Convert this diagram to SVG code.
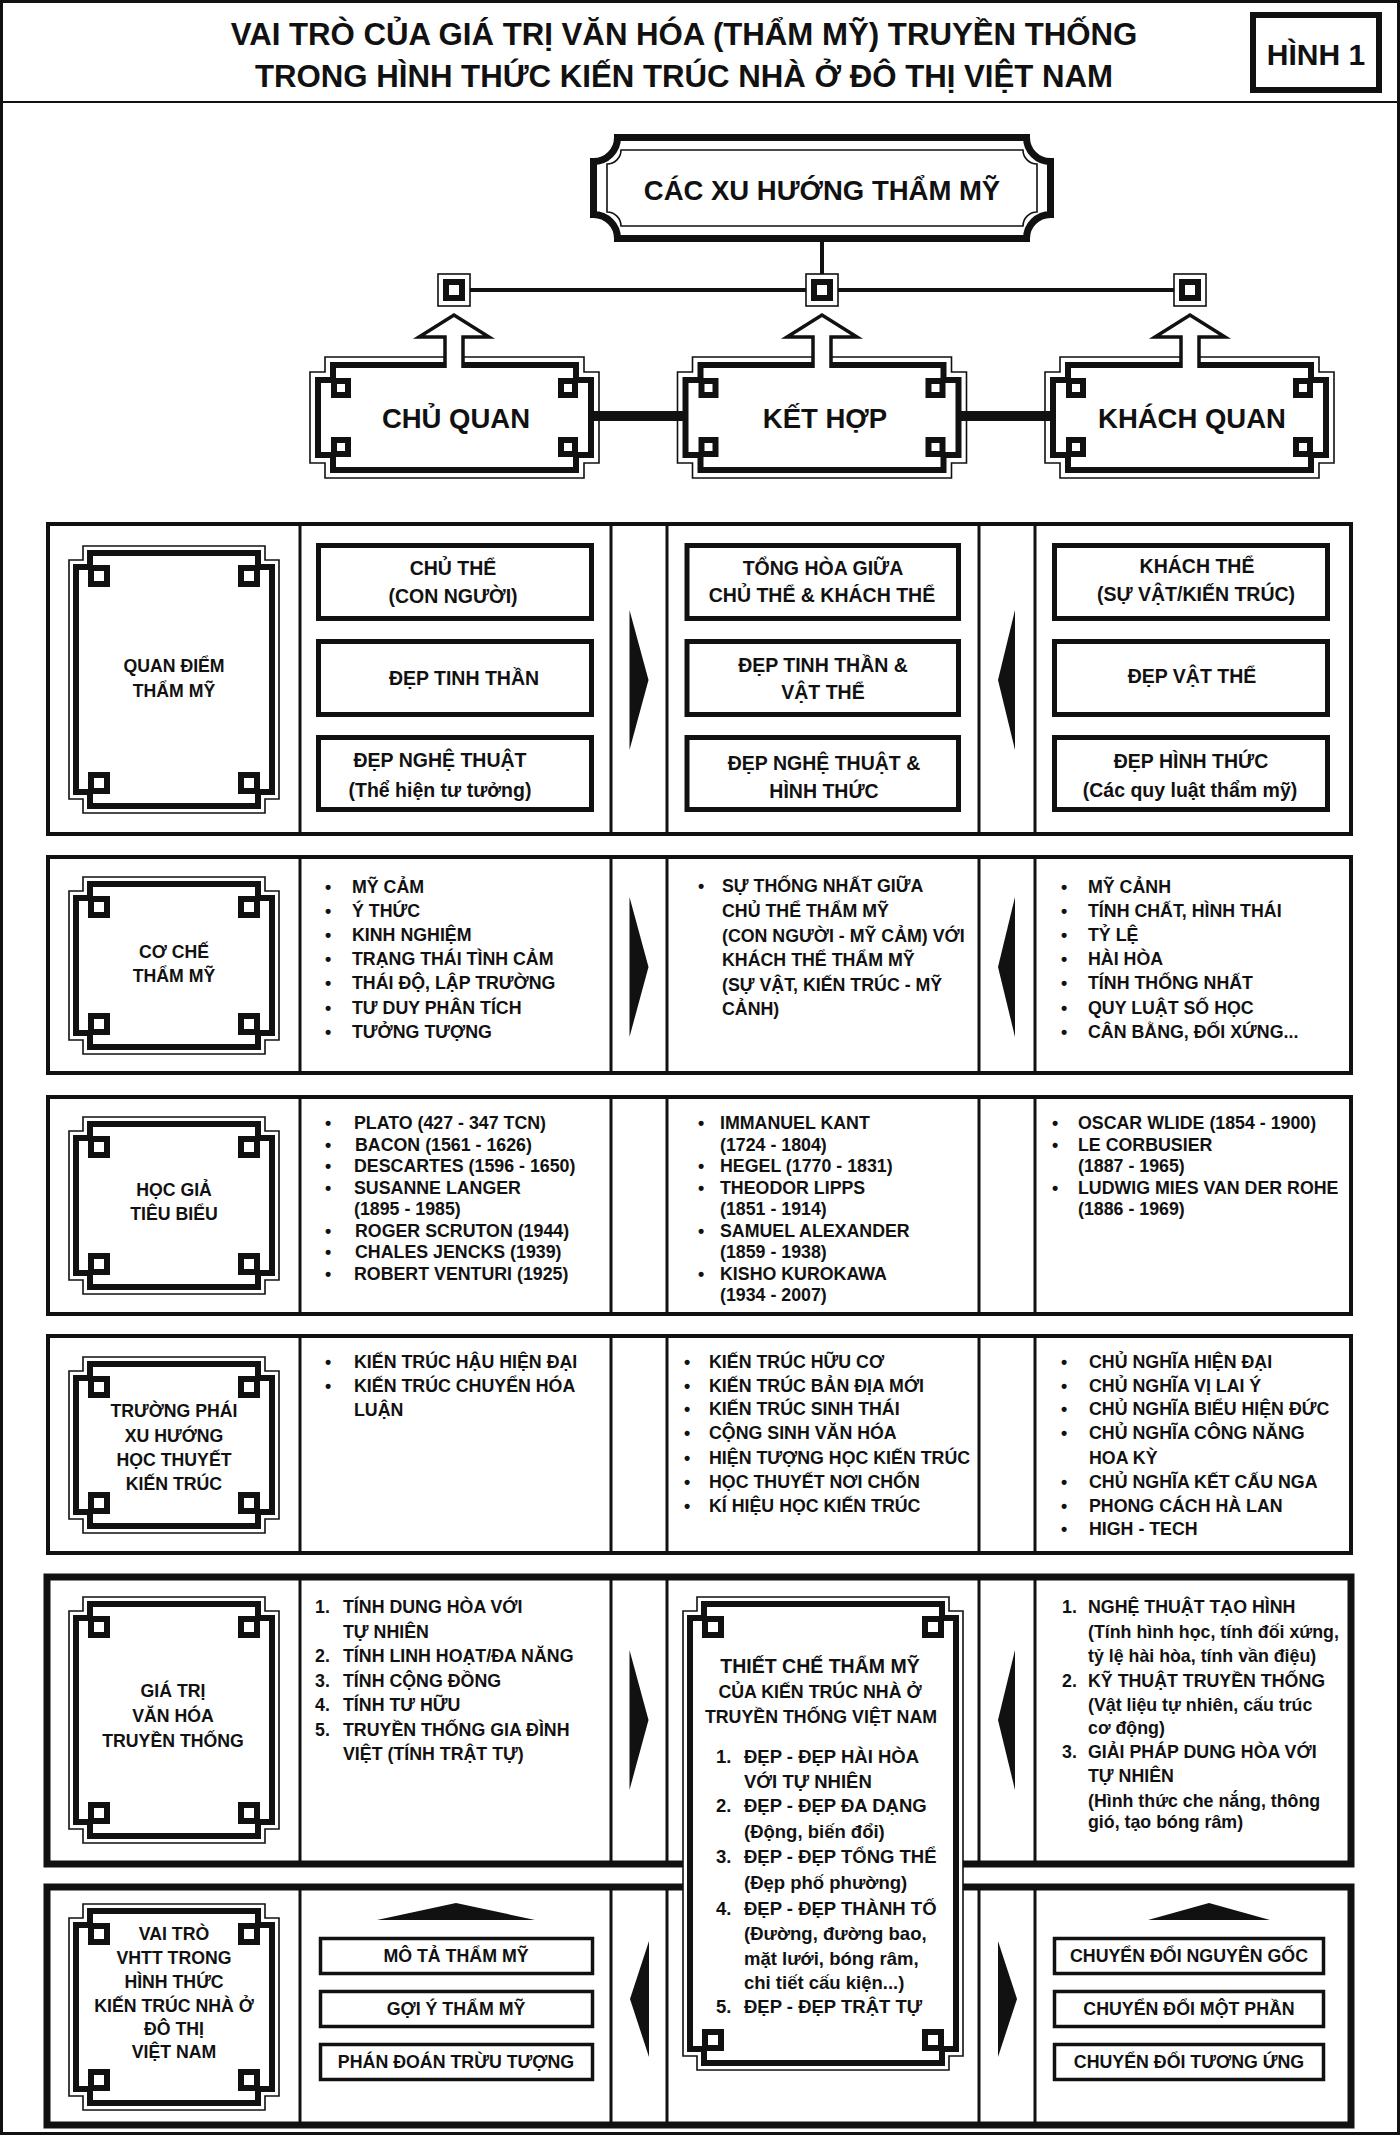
<svg xmlns="http://www.w3.org/2000/svg" width="1400" height="2135" viewBox="0 0 1400 2135">
<style>
text{font-family:"Liberation Sans",Arial,sans-serif;font-weight:bold;fill:#111}
.c{text-anchor:middle}
.title{font-size:31.2px}
.big{font-size:27.5px}
.bx{font-size:19.5px}
.lb{font-size:17.7px}
.li{font-size:17.8px}
.tc{font-size:18.5px}
.tc2{font-size:17.8px}
.thin{fill:#fff;stroke:#111;stroke-width:1.6}
.thick{fill:none;stroke:#111;stroke-width:6}
.row{fill:#fff;stroke:#111;stroke-width:4}
.row2{fill:#fff;stroke:#111;stroke-width:7}
.div{stroke:#111;stroke-width:3}
.box{fill:#fff;stroke:#111;stroke-width:5}
.box6{fill:#fff;stroke:#111;stroke-width:3.5}
.arr{fill:#111}
.conn{stroke:#111;stroke-width:4;fill:none}
</style>
<defs>
<g id="sq"><rect width="22" height="22" fill="#111"/><rect x="6" y="6" width="10" height="10" fill="#fff"/></g>
<g id="sq20"><rect width="20" height="20" fill="#111"/><rect x="6" y="6" width="8" height="8" fill="#fff"/></g>
<path id="ar" d="M0,0 L19,70 L0,140 Z"/>
<path id="al" d="M17,0 L0,70 L17,140 Z"/>
</defs>
<rect x="0" y="0" width="1400" height="2135" fill="#fff"/>
<rect x="1.5" y="1.5" width="1397" height="2132" fill="none" stroke="#111" stroke-width="3"/>

<g id="title">
<text class="title c" x="684" y="45">VAI TRÒ CỦA GIÁ TRỊ VĂN HÓA (THẨM MỸ) TRUYỀN THỐNG</text>
<text class="title c" x="684" y="87">TRONG HÌNH THỨC KIẾN TRÚC NHÀ Ở ĐÔ THỊ VIỆT NAM</text>
<line x1="0" y1="102" x2="1400" y2="102" stroke="#111" stroke-width="2"/>
</g>
<g id="fig-label">
<rect x="1253" y="15" width="126" height="75" fill="#fff" stroke="#111" stroke-width="6"/>
<text class="c" x="1316" y="65" style="font-size:30px">HÌNH 1</text>
</g>

<g id="node-top">
<path d="M617.5,137.5 H1026.5 A24 24 0 0 0 1050.5,161.5 V214.5 A24 24 0 0 0 1026.5,238.5 H617.5 A24 24 0 0 0 593.5,214.5 V161.5 A24 24 0 0 0 617.5,137.5 Z" fill="#fff" stroke="#111" stroke-width="7"/>
<path d="M621,150 H1023 A14 14 0 0 0 1037,164 V212 A14 14 0 0 0 1023,226 H621 A14 14 0 0 0 607,212 V164 A14 14 0 0 0 621,150 Z" fill="none" stroke="#111" stroke-width="1.6"/>
<text class="big c" x="822" y="200">CÁC XU HƯỚNG THẨM MỸ</text>
</g>

<g id="node-chu-quan">
<path class="thin" d="M325,357 H584 V372 H599 V463 H584 V478 H325 V463 H310 V372 H325 Z"/>
<path class="thick" d="M333,365 H576 V380 H591 V455 H576 V470 H333 V455 H318 V380 H333 Z"/>
<use href="#sq20" x="331" y="378"/><use href="#sq20" x="558" y="378"/><use href="#sq20" x="331" y="437"/><use href="#sq20" x="558" y="437"/>
<text class="big c" x="456" y="428">CHỦ QUAN</text>
</g>
<g id="node-ket-hop">
<path class="thin" d="M692.5,357 H951.5 V372 H966.5 V463 H951.5 V478 H692.5 V463 H677.5 V372 H692.5 Z"/>
<path class="thick" d="M700.5,365 H943.5 V380 H958.5 V455 H943.5 V470 H700.5 V455 H685.5 V380 H700.5 Z"/>
<use href="#sq20" x="698.5" y="378"/><use href="#sq20" x="925.5" y="378"/><use href="#sq20" x="698.5" y="437"/><use href="#sq20" x="925.5" y="437"/>
<text class="big c" x="825" y="428">KẾT HỢP</text>
</g>
<g id="node-khach-quan">
<path class="thin" d="M1060,357 H1319 V372 H1334 V463 H1319 V478 H1060 V463 H1045 V372 H1060 Z"/>
<path class="thick" d="M1068,365 H1311 V380 H1326 V455 H1311 V470 H1068 V455 H1053 V380 H1068 Z"/>
<use href="#sq20" x="1066" y="378"/><use href="#sq20" x="1293" y="378"/><use href="#sq20" x="1066" y="437"/><use href="#sq20" x="1293" y="437"/>
<text class="big c" x="1192" y="428">KHÁCH QUAN</text>
</g>

<g id="connectors">
<line x1="822" y1="241" x2="822" y2="276" class="conn"/>
<line x1="454" y1="290" x2="1190" y2="290" class="conn"/>
<line x1="591" y1="416" x2="686" y2="416" stroke="#111" stroke-width="10"/>
<line x1="958" y1="416" x2="1053" y2="416" stroke="#111" stroke-width="10"/>
<g>
<rect x="438" y="274" width="32" height="32" class="thin"/><use href="#sq" x="443" y="279"/>
<rect x="806" y="274" width="32" height="32" class="thin"/><use href="#sq" x="811" y="279"/>
<rect x="1174" y="274" width="32" height="32" class="thin"/><use href="#sq" x="1179" y="279"/>
</g>
<path d="M445,368 V337 H419 L454,315 L489,337 H463 V368 Z" fill="#fff"/>
<path d="M445,368 V337 H419 L454,315 L489,337 H463 V368" fill="none" stroke="#111" stroke-width="3.5"/>
<path d="M813,368 V337 H787 L822,315 L857,337 H831 V368 Z" fill="#fff"/>
<path d="M813,368 V337 H787 L822,315 L857,337 H831 V368" fill="none" stroke="#111" stroke-width="3.5"/>
<path d="M1181,368 V337 H1155 L1190,315 L1225,337 H1199 V368 Z" fill="#fff"/>
<path d="M1181,368 V337 H1155 L1190,315 L1225,337 H1199 V368" fill="none" stroke="#111" stroke-width="3.5"/>
</g>

<!-- ROW 1 -->
<g id="row-quan-diem">
<rect class="row" x="48" y="524" width="1303" height="310"/>
<line class="div" x1="300" y1="524" x2="300" y2="834"/><line class="div" x1="611" y1="524" x2="611" y2="834"/><line class="div" x1="667" y1="524" x2="667" y2="834"/><line class="div" x1="979" y1="524" x2="979" y2="834"/><line class="div" x1="1035" y1="524" x2="1035" y2="834"/>
<path class="thin" d="M83,546 H265 V560 H279 V799 H265 V813 H83 V799 H69 V560 H83 Z"/>
<path class="thick" d="M90,553 H258 V567 H272 V792 H258 V806 H90 V792 H76 V567 H90 Z"/>
<use href="#sq" x="88" y="565"/><use href="#sq" x="238" y="565"/><use href="#sq" x="88" y="772"/><use href="#sq" x="238" y="772"/>
<text class="lb c" x="174" y="672">QUAN ĐIỂM</text>
<text class="lb c" x="174" y="697">THẨM MỸ</text>
<rect class="box" x="318.5" y="545.5" width="273" height="73"/>
<rect class="box" x="318.5" y="641.5" width="273" height="73"/>
<rect class="box" x="318.5" y="737.5" width="273" height="72"/>
<rect class="box" x="687" y="545.5" width="271.5" height="73"/>
<rect class="box" x="687" y="641.5" width="271.5" height="73"/>
<rect class="box" x="687" y="737.5" width="271.5" height="72"/>
<rect class="box" x="1054.5" y="545.5" width="273" height="73"/>
<rect class="box" x="1054.5" y="641.5" width="273" height="73"/>
<rect class="box" x="1054.5" y="737.5" width="273" height="72"/>
<text class="bx c" x="453" y="575">CHỦ THỂ</text>
<text class="bx c" x="453" y="603">(CON NGƯỜI)</text>
<text class="bx c" x="464" y="685">ĐẸP TINH THẦN</text>
<text class="bx c" x="440" y="767">ĐẸP NGHỆ THUẬT</text>
<text class="bx c" x="440" y="797">(Thể hiện tư tưởng)</text>
<text class="bx c" x="823" y="575">TỔNG HÒA GIỮA</text>
<text class="bx c" x="822" y="602">CHỦ THỂ &amp; KHÁCH THỂ</text>
<text class="bx c" x="823" y="672">ĐẸP TINH THẦN &amp;</text>
<text class="bx c" x="823" y="699">VẬT THỂ</text>
<text class="bx c" x="824" y="770">ĐẸP NGHỆ THUẬT &amp;</text>
<text class="bx c" x="824" y="798">HÌNH THỨC</text>
<text class="bx c" x="1197" y="573">KHÁCH THỂ</text>
<text class="bx c" x="1196" y="601">(SỰ VẬT/KIẾN TRÚC)</text>
<text class="bx c" x="1192" y="683">ĐẸP VẬT THỂ</text>
<text class="bx c" x="1191" y="768">ĐẸP HÌNH THỨC</text>
<text class="bx c" x="1190" y="797">(Các quy luật thẩm mỹ)</text>
<use href="#ar" x="629.5" y="610" class="arr"/>
<use href="#al" x="998" y="610" class="arr"/>
</g>

<!-- ROW 2 -->
<g id="row-co-che">
<rect class="row" x="48" y="857" width="1303" height="216"/>
<line class="div" x1="300" y1="857" x2="300" y2="1073"/><line class="div" x1="611" y1="857" x2="611" y2="1073"/><line class="div" x1="667" y1="857" x2="667" y2="1073"/><line class="div" x1="979" y1="857" x2="979" y2="1073"/><line class="div" x1="1035" y1="857" x2="1035" y2="1073"/>
<path class="thin" d="M83,877 H265 V891 H279 V1040 H265 V1054 H83 V1040 H69 V891 H83 Z"/>
<path class="thick" d="M90,884 H258 V898 H272 V1033 H258 V1047 H90 V1033 H76 V898 H90 Z"/>
<use href="#sq" x="88" y="896"/><use href="#sq" x="238" y="896"/><use href="#sq" x="88" y="1013"/><use href="#sq" x="238" y="1013"/>
<text class="lb c" x="174" y="958">CƠ CHẾ</text>
<text class="lb c" x="174" y="982">THẨM MỸ</text>
<text class="li" y="893"><tspan x="325">•</tspan><tspan x="352">MỸ CẢM</tspan></text>
<text class="li" y="917"><tspan x="325">•</tspan><tspan x="352">Ý THỨC</tspan></text>
<text class="li" y="941"><tspan x="325">•</tspan><tspan x="352">KINH NGHIỆM</tspan></text>
<text class="li" y="965"><tspan x="325">•</tspan><tspan x="352">TRẠNG THÁI TÌNH CẢM</tspan></text>
<text class="li" y="989"><tspan x="325">•</tspan><tspan x="352">THÁI ĐỘ, LẬP TRƯỜNG</tspan></text>
<text class="li" y="1014"><tspan x="325">•</tspan><tspan x="352">TƯ DUY PHÂN TÍCH</tspan></text>
<text class="li" y="1038"><tspan x="325">•</tspan><tspan x="352">TƯỞNG TƯỢNG</tspan></text>
<text class="li" y="892"><tspan x="698">•</tspan><tspan x="722">SỰ THỐNG NHẤT GIỮA</tspan></text>
<text class="li" x="722" y="917">CHỦ THỂ THẨM MỸ</text>
<text class="li" x="722" y="942">(CON NGƯỜI - MỸ CẢM) VỚI</text>
<text class="li" x="722" y="966">KHÁCH THỂ THẨM MỸ</text>
<text class="li" x="722" y="991">(SỰ VẬT, KIẾN TRÚC - MỸ</text>
<text class="li" x="722" y="1015">CẢNH)</text>
<text class="li" y="893"><tspan x="1061">•</tspan><tspan x="1088">MỸ CẢNH</tspan></text>
<text class="li" y="917"><tspan x="1061">•</tspan><tspan x="1088">TÍNH CHẤT, HÌNH THÁI</tspan></text>
<text class="li" y="941"><tspan x="1061">•</tspan><tspan x="1088">TỶ LỆ</tspan></text>
<text class="li" y="965"><tspan x="1061">•</tspan><tspan x="1088">HÀI HÒA</tspan></text>
<text class="li" y="989"><tspan x="1061">•</tspan><tspan x="1088">TÍNH THỐNG NHẤT</tspan></text>
<text class="li" y="1014"><tspan x="1061">•</tspan><tspan x="1088">QUY LUẬT SỐ HỌC</tspan></text>
<text class="li" y="1038"><tspan x="1061">•</tspan><tspan x="1088">CÂN BẰNG, ĐỐI XỨNG...</tspan></text>
<use href="#ar" x="629.5" y="897" class="arr"/>
<use href="#al" x="998" y="897" class="arr"/>
</g>

<!-- ROW 3 -->
<g id="row-hoc-gia">
<rect class="row" x="48" y="1097" width="1303" height="217"/>
<line class="div" x1="300" y1="1097" x2="300" y2="1314"/><line class="div" x1="611" y1="1097" x2="611" y2="1314"/><line class="div" x1="667" y1="1097" x2="667" y2="1314"/><line class="div" x1="979" y1="1097" x2="979" y2="1314"/><line class="div" x1="1035" y1="1097" x2="1035" y2="1314"/>
<path class="thin" d="M83,1117 H265 V1131 H279 V1280 H265 V1294 H83 V1280 H69 V1131 H83 Z"/>
<path class="thick" d="M90,1124 H258 V1138 H272 V1273 H258 V1287 H90 V1273 H76 V1138 H90 Z"/>
<use href="#sq" x="88" y="1136"/><use href="#sq" x="238" y="1136"/><use href="#sq" x="88" y="1253"/><use href="#sq" x="238" y="1253"/>
<text class="lb c" x="174" y="1196">HỌC GIẢ</text>
<text class="lb c" x="174" y="1220">TIÊU BIỂU</text>
<text class="li" y="1129"><tspan x="325">•</tspan><tspan x="354">PLATO (427 - 347 TCN)</tspan></text>
<text class="li" y="1150.5"><tspan x="325">•</tspan><tspan x="355">BACON (1561 - 1626)</tspan></text>
<text class="li" y="1172"><tspan x="325">•</tspan><tspan x="354">DESCARTES (1596 - 1650)</tspan></text>
<text class="li" y="1193.5"><tspan x="325">•</tspan><tspan x="354">SUSANNE LANGER</tspan></text>
<text class="li" x="354" y="1215">(1895 - 1985)</text>
<text class="li" y="1236.5"><tspan x="325">•</tspan><tspan x="355">ROGER SCRUTON (1944)</tspan></text>
<text class="li" y="1258"><tspan x="325">•</tspan><tspan x="355">CHALES JENCKS (1939)</tspan></text>
<text class="li" y="1279.5"><tspan x="325">•</tspan><tspan x="354">ROBERT VENTURI (1925)</tspan></text>
<text class="li" y="1129"><tspan x="698">•</tspan><tspan x="720">IMMANUEL KANT</tspan></text>
<text class="li" x="720" y="1150.5">(1724 - 1804)</text>
<text class="li" y="1172"><tspan x="698">•</tspan><tspan x="720">HEGEL (1770 - 1831)</tspan></text>
<text class="li" y="1193.5"><tspan x="698">•</tspan><tspan x="720">THEODOR LIPPS</tspan></text>
<text class="li" x="720" y="1215">(1851 - 1914)</text>
<text class="li" y="1236.5"><tspan x="698">•</tspan><tspan x="720">SAMUEL ALEXANDER</tspan></text>
<text class="li" x="720" y="1258">(1859 - 1938)</text>
<text class="li" y="1279.5"><tspan x="698">•</tspan><tspan x="720">KISHO KUROKAWA</tspan></text>
<text class="li" x="720" y="1301">(1934 - 2007)</text>
<text class="li" y="1129"><tspan x="1052">•</tspan><tspan x="1078">OSCAR WLIDE (1854 - 1900)</tspan></text>
<text class="li" y="1150.5"><tspan x="1052">•</tspan><tspan x="1078">LE CORBUSIER</tspan></text>
<text class="li" x="1078" y="1172">(1887 - 1965)</text>
<text class="li" y="1193.5"><tspan x="1052">•</tspan><tspan x="1078">LUDWIG MIES VAN DER ROHE</tspan></text>
<text class="li" x="1078" y="1215">(1886 - 1969)</text>
</g>

<!-- ROW 4 -->
<g id="row-truong-phai">
<rect class="row" x="48" y="1336" width="1303" height="217"/>
<line class="div" x1="300" y1="1336" x2="300" y2="1553"/><line class="div" x1="611" y1="1336" x2="611" y2="1553"/><line class="div" x1="667" y1="1336" x2="667" y2="1553"/><line class="div" x1="979" y1="1336" x2="979" y2="1553"/><line class="div" x1="1035" y1="1336" x2="1035" y2="1553"/>
<path class="thin" d="M83,1357 H265 V1371 H279 V1519 H265 V1533 H83 V1519 H69 V1371 H83 Z"/>
<path class="thick" d="M90,1364 H258 V1378 H272 V1512 H258 V1526 H90 V1512 H76 V1378 H90 Z"/>
<use href="#sq" x="88" y="1376"/><use href="#sq" x="238" y="1376"/><use href="#sq" x="88" y="1492"/><use href="#sq" x="238" y="1492"/>
<text class="lb c" x="174" y="1417">TRƯỜNG PHÁI</text>
<text class="lb c" x="174" y="1442">XU HƯỚNG</text>
<text class="lb c" x="174" y="1466">HỌC THUYẾT</text>
<text class="lb c" x="174" y="1490">KIẾN TRÚC</text>
<text class="li" y="1368"><tspan x="325">•</tspan><tspan x="354">KIẾN TRÚC HẬU HIỆN ĐẠI</tspan></text>
<text class="li" y="1392"><tspan x="325">•</tspan><tspan x="354">KIẾN TRÚC CHUYỂN HÓA</tspan></text>
<text class="li" x="354" y="1415.5">LUẬN</text>
<text class="li" y="1368"><tspan x="684">•</tspan><tspan x="709">KIẾN TRÚC HỮU CƠ</tspan></text>
<text class="li" y="1392"><tspan x="684">•</tspan><tspan x="709">KIẾN TRÚC BẢN ĐỊA MỚI</tspan></text>
<text class="li" y="1414.5"><tspan x="684">•</tspan><tspan x="709">KIẾN TRÚC SINH THÁI</tspan></text>
<text class="li" y="1439"><tspan x="684">•</tspan><tspan x="709">CỘNG SINH VĂN HÓA</tspan></text>
<text class="li" y="1463.5"><tspan x="684">•</tspan><tspan x="709">HIỆN TƯỢNG HỌC KIẾN TRÚC</tspan></text>
<text class="li" y="1488"><tspan x="684">•</tspan><tspan x="709">HỌC THUYẾT NƠI CHỐN</tspan></text>
<text class="li" y="1512"><tspan x="684">•</tspan><tspan x="709">KÍ HIỆU HỌC KIẾN TRÚC</tspan></text>
<text class="li" y="1368"><tspan x="1061">•</tspan><tspan x="1089">CHỦ NGHĨA HIỆN ĐẠI</tspan></text>
<text class="li" y="1392"><tspan x="1061">•</tspan><tspan x="1089">CHỦ NGHĨA VỊ LAI Ý</tspan></text>
<text class="li" y="1414.5"><tspan x="1061">•</tspan><tspan x="1089">CHỦ NGHĨA BIỂU HIỆN ĐỨC</tspan></text>
<text class="li" y="1439"><tspan x="1061">•</tspan><tspan x="1089">CHỦ NGHĨA CÔNG NĂNG</tspan></text>
<text class="li" x="1089" y="1463.5">HOA KỲ</text>
<text class="li" y="1488"><tspan x="1061">•</tspan><tspan x="1089">CHỦ NGHĨA KẾT CẤU NGA</tspan></text>
<text class="li" y="1512"><tspan x="1061">•</tspan><tspan x="1089">PHONG CÁCH HÀ LAN</tspan></text>
<text class="li" y="1534.5"><tspan x="1061">•</tspan><tspan x="1089">HIGH - TECH</tspan></text>
</g>

<!-- ROW 5 -->
<g id="row-gia-tri">
<rect class="row2" x="47" y="1577" width="1304" height="287"/>
<line class="div" x1="300" y1="1577" x2="300" y2="1864"/><line class="div" x1="611" y1="1577" x2="611" y2="1864"/><line class="div" x1="667" y1="1577" x2="667" y2="1864"/><line class="div" x1="979" y1="1577" x2="979" y2="1864"/><line class="div" x1="1035" y1="1577" x2="1035" y2="1864"/>
<path class="thin" d="M83,1597 H265 V1611 H279 V1829 H265 V1843 H83 V1829 H69 V1611 H83 Z"/>
<path class="thick" d="M90,1604 H258 V1618 H272 V1822 H258 V1836 H90 V1822 H76 V1618 H90 Z"/>
<use href="#sq" x="88" y="1616"/><use href="#sq" x="238" y="1616"/><use href="#sq" x="88" y="1802"/><use href="#sq" x="238" y="1802"/>
<text class="lb c" x="173" y="1697">GIÁ TRỊ</text>
<text class="lb c" x="173" y="1722">VĂN HÓA</text>
<text class="lb c" x="173" y="1747">TRUYỀN THỐNG</text>
<text class="li" y="1613"><tspan x="315">1.</tspan><tspan x="343">TÍNH DUNG HÒA VỚI</tspan></text>
<text class="li" x="343" y="1638">TỰ NHIÊN</text>
<text class="li" y="1662"><tspan x="315">2.</tspan><tspan x="343">TÍNH LINH HOẠT/ĐA NĂNG</tspan></text>
<text class="li" y="1687"><tspan x="315">3.</tspan><tspan x="343">TÍNH CỘNG ĐỒNG</tspan></text>
<text class="li" y="1711"><tspan x="315">4.</tspan><tspan x="343">TÍNH TƯ HỮU</tspan></text>
<text class="li" y="1736"><tspan x="315">5.</tspan><tspan x="343">TRUYỀN THỐNG GIA ĐÌNH</tspan></text>
<text class="li" x="343" y="1760">VIỆT (TÍNH TRẬT TỰ)</text>
<text class="li" y="1613"><tspan x="1062">1.</tspan><tspan x="1088">NGHỆ THUẬT TẠO HÌNH</tspan></text>
<text class="li" x="1088" y="1638">(Tính hình học, tính đối xứng,</text>
<text class="li" x="1088" y="1662">tỷ lệ hài hòa, tính vần điệu)</text>
<text class="li" y="1687"><tspan x="1062">2.</tspan><tspan x="1088">KỸ THUẬT TRUYỀN THỐNG</tspan></text>
<text class="li" x="1088" y="1711">(Vật liệu tự nhiên, cấu trúc</text>
<text class="li" x="1088" y="1734">cơ động)</text>
<text class="li" y="1758"><tspan x="1062">3.</tspan><tspan x="1088">GIẢI PHÁP DUNG HÒA VỚI</tspan></text>
<text class="li" x="1088" y="1782">TỰ NHIÊN</text>
<text class="li" x="1088" y="1807">(Hình thức che nắng, thông</text>
<text class="li" x="1088" y="1828">gió, tạo bóng râm)</text>
<use href="#ar" x="629.5" y="1650" class="arr"/>
<use href="#al" x="998" y="1650" class="arr"/>
</g>

<!-- ROW 6 -->
<g id="row-vai-tro">
<rect class="row2" x="47" y="1887" width="1304" height="238"/>
<line class="div" x1="300" y1="1887" x2="300" y2="2125"/><line class="div" x1="611" y1="1887" x2="611" y2="2125"/><line class="div" x1="667" y1="1887" x2="667" y2="2125"/><line class="div" x1="979" y1="1887" x2="979" y2="2125"/><line class="div" x1="1035" y1="1887" x2="1035" y2="2125"/>
<path class="thin" d="M83,1904 H265 V1918 H279 V2096 H265 V2110 H83 V2096 H69 V1918 H83 Z"/>
<path class="thick" d="M90,1911 H258 V1925 H272 V2089 H258 V2103 H90 V2089 H76 V1925 H90 Z"/>
<use href="#sq" x="88" y="1923"/><use href="#sq" x="238" y="1923"/><use href="#sq" x="88" y="2069"/><use href="#sq" x="238" y="2069"/>
<text class="lb c" x="174" y="1940">VAI TRÒ</text>
<text class="lb c" x="174" y="1964">VHTT TRONG</text>
<text class="lb c" x="174" y="1988">HÌNH THỨC</text>
<text class="lb c" x="174" y="2012">KIẾN TRÚC NHÀ Ở</text>
<text class="lb c" x="174" y="2035">ĐÔ THỊ</text>
<text class="lb c" x="174" y="2058">VIỆT NAM</text>
<polygon points="377,1920 456,1903 535,1920" class="arr"/>
<polygon points="1148,1920 1209,1903 1270,1920" class="arr"/>
<rect class="box6" x="320.5" y="1938.5" width="272" height="35"/>
<rect class="box6" x="320.5" y="1991.5" width="272" height="35"/>
<rect class="box6" x="320.5" y="2044.5" width="272" height="35"/>
<rect class="box6" x="1054.5" y="1938.5" width="269" height="35"/>
<rect class="box6" x="1054.5" y="1991.5" width="269" height="35"/>
<rect class="box6" x="1054.5" y="2044.5" width="269" height="35"/>
<text class="li c" x="456" y="1962">MÔ TẢ THẨM MỸ</text>
<text class="li c" x="456" y="2015">GỢI Ý THẨM MỸ</text>
<text class="li c" x="456" y="2068">PHÁN ĐOÁN TRỪU TƯỢNG</text>
<text class="li c" x="1189" y="1962">CHUYỂN ĐỔI NGUYÊN GỐC</text>
<text class="li c" x="1189" y="2015">CHUYỂN ĐỔI MỘT PHẦN</text>
<text class="li c" x="1189" y="2068">CHUYỂN ĐỔI TƯƠNG ỨNG</text>
<path d="M649,1941 L630,1999 L649,2057 Z" class="arr"/>
<path d="M998,1941 L1017,1999 L998,2057 Z" class="arr"/>
</g>

<!-- Center frame spanning rows 5 and 6 -->
<g id="node-thiet-che">
<path class="thin" d="M697,1597 H949 V1611 H963 V2056 H949 V2070 H697 V2056 H683 V1611 H697 Z"/>
<path class="thick" d="M704,1604 H942 V1618 H956 V2049 H942 V2063 H704 V2049 H690 V1618 H704 Z"/>
<use href="#sq" x="702" y="1616"/><use href="#sq" x="922" y="1616"/><use href="#sq" x="702" y="2029"/><use href="#sq" x="922" y="2029"/>
<text class="bx c" x="820" y="1673">THIẾT CHẾ THẨM MỸ</text>
<text class="tc2 c" x="820" y="1698">CỦA KIẾN TRÚC NHÀ Ở</text>
<text class="tc2 c" x="821" y="1723">TRUYỀN THỐNG VIỆT NAM</text>
<text class="tc" y="1763"><tspan x="716">1.</tspan><tspan x="744">ĐẸP - ĐẸP HÀI HÒA</tspan></text>
<text class="tc" x="744" y="1788">VỚI TỰ NHIÊN</text>
<text class="tc" y="1812"><tspan x="716">2.</tspan><tspan x="744">ĐẸP - ĐẸP ĐA DẠNG</tspan></text>
<text class="tc" x="744" y="1838">(Động, biến đổi)</text>
<text class="tc" y="1863"><tspan x="716">3.</tspan><tspan x="744">ĐẸP - ĐẸP TỔNG THỂ</tspan></text>
<text class="tc" x="744" y="1889">(Đẹp phố phường)</text>
<text class="tc" y="1915"><tspan x="716">4.</tspan><tspan x="744">ĐẸP - ĐẸP THÀNH TỐ</tspan></text>
<text class="tc" x="744" y="1940">(Đường, đường bao,</text>
<text class="tc" x="744" y="1965">mặt lưới, bóng râm,</text>
<text class="tc" x="744" y="1989">chi tiết cấu kiện...)</text>
<text class="tc" y="2013"><tspan x="716">5.</tspan><tspan x="744">ĐẸP - ĐẸP TRẬT TỰ</tspan></text>
</g>
</svg>
